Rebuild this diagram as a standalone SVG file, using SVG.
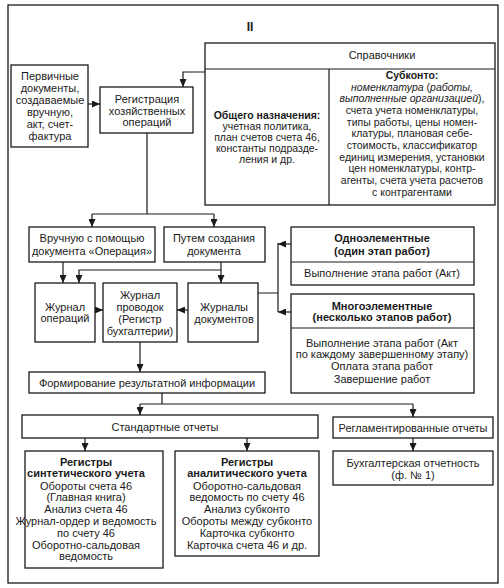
<svg xmlns="http://www.w3.org/2000/svg" width="504" height="588" viewBox="0 0 504 588">
<style>
text{font-family:"Liberation Sans",Arial,sans-serif;font-size:11px;fill:#1a1a1a;text-anchor:middle}
.s{font-size:10.5px}
.b{font-weight:bold}
.i{font-style:italic}
.box{fill:#fff;stroke:#1a1a1a;stroke-width:1.3}
.ln{fill:none;stroke:#1a1a1a;stroke-width:1.2}
.ar{fill:none;stroke:#1a1a1a;stroke-width:1.2;marker-end:url(#ah)}
</style>
<defs>
<marker id="ah" viewBox="0 0 8 7" refX="8" refY="3.5" markerWidth="8" markerHeight="7" markerUnits="userSpaceOnUse" orient="auto">
<path d="M0,0 L8,3.5 L0,7 z" fill="#1a1a1a"/>
</marker>
</defs>
<rect width="504" height="588" fill="#fff"/>
<rect x="8" y="5" width="490" height="578" fill="none" stroke="#1a1a1a" stroke-width="1.3"/>
<text x="250" y="31" class="b" style="font-size:12px">II</text>

<g id="connectors">
<path class="ar" d="M88,104 H100"/>
<path class="ar" d="M205,72 H183 V87"/>
<path class="ln" d="M147,133 V214 M92,214 H214"/>
<path class="ar" d="M92,214 V227"/>
<path class="ar" d="M214,214 V227"/>
<path class="ar" d="M63,262 V283"/>
<path class="ar" d="M221,262 V283"/>
<path class="ar" d="M221,270 H79 V283"/>
<path class="ar" d="M95,310 H103"/>
<path class="ar" d="M188,310 H177"/>
<path class="ln" d="M258,293 H278 M278,243 V312"/>
<path class="ar" d="M291,244 H278"/>
<path class="ar" d="M291,312 H278"/>
<path class="ar" d="M140,342 V372"/>
<path class="ln" d="M162,393 V404 M140,404 H413"/>
<path class="ar" d="M140,404 V415"/>
<path class="ar" d="M413,404 V417"/>
<path class="ar" d="M85,438 V451"/>
<path class="ar" d="M247,438 V451"/>
<path class="ar" d="M413,438 V451"/>
</g>

<g id="primary">
<rect class="box" x="11" y="65" width="77" height="82"/>
<text x="50" y="80">Первичные</text>
<text x="50" y="92">документы,</text>
<text x="50" y="104">создаваемые</text>
<text x="50" y="116">вручную,</text>
<text x="50" y="128">акт, счет-</text>
<text x="50" y="140">фактура</text>
</g>

<g id="registration">
<rect class="box" x="100" y="87" width="93" height="46"/>
<text x="147" y="103">Регистрация</text>
<text x="147" y="115">хозяйственных</text>
<text x="147" y="126">операций</text>
</g>

<g id="spravochniki">
<rect class="box" x="205" y="43" width="290" height="162"/>
<path class="ln" d="M205,69 H495 M329,69 V205"/>
<text x="382" y="59">Справочники</text>
<text class="s b" x="267" y="119">Общего назначения:</text>
<text class="s" x="267" y="130">учетная политика,</text>
<text class="s" x="267" y="141">план счетов счета 46,</text>
<text class="s" x="267" y="152">константы подразде-</text>
<text class="s" x="267" y="163">ления и др.</text>
<text class="s b" x="412" y="79">Субконто:</text>
<text class="s" x="412" y="91"><tspan class="i">номенклатура</tspan> (<tspan class="i">работы,</tspan></text>
<text class="s" x="412" y="102"><tspan class="i">выполненные организацией</tspan>),</text>
<text class="s" x="412" y="114">счета учета номенклатуры,</text>
<text class="s" x="412" y="126">типы работы, цены номен-</text>
<text class="s" x="412" y="137">клатуры, плановая себе-</text>
<text class="s" x="412" y="149">стоимость, классификатор</text>
<text class="s" x="412" y="161">единиц измерения, установки</text>
<text class="s" x="412" y="172">цен номенклатуры, контр-</text>
<text class="s" x="412" y="184">агенты, счета учета расчетов</text>
<text class="s" x="412" y="196">с контрагентами</text>
</g>

<g id="manual">
<rect class="box" x="29" y="227" width="126" height="35"/>
<text x="92" y="242">Вручную с помощью</text>
<text x="92" y="255">документа «Операция»</text>
</g>

<g id="bydoc">
<rect class="box" x="164" y="227" width="101" height="35"/>
<text x="214" y="242">Путем создания</text>
<text x="214" y="255">документа</text>
</g>

<g id="single">
<rect class="box" x="291" y="227" width="183" height="58"/>
<path class="ln" d="M291,262 H474"/>
<text class="b" x="382" y="242">Одноэлементные</text>
<text class="b" x="382" y="255">(один этап работ)</text>
<text x="382" y="277">Выполнение этапа работ (Акт)</text>
</g>

<g id="multi">
<rect class="box" x="291" y="294" width="183" height="99"/>
<path class="ln" d="M291,328 H474"/>
<text class="b" x="382" y="310">Многоэлементные</text>
<text class="b" x="382" y="321">(несколько этапов работ)</text>
<text x="382" y="347">Выполнение этапа работ (Акт</text>
<text x="382" y="358">по каждому завершенному этапу)</text>
<text x="382" y="370">Оплата этапа работ</text>
<text x="382" y="383">Завершение работ</text>
</g>

<g id="journal-ops">
<rect class="box" x="35" y="283" width="60" height="59"/>
<text x="65" y="311">Журнал</text>
<text x="65" y="322">операций</text>
</g>

<g id="journal-entries">
<rect class="box" x="103" y="283" width="74" height="59"/>
<text x="140" y="299">Журнал</text>
<text x="140" y="311">проводок</text>
<text x="140" y="323">(Регистр</text>
<text x="140" y="335">бухгалтерии)</text>
</g>

<g id="journal-docs">
<rect class="box" x="188" y="283" width="70" height="59"/>
<text x="224" y="311">Журналы</text>
<text x="224" y="323">документов</text>
</g>

<g id="forming">
<rect class="box" x="29" y="372" width="236" height="21"/>
<text x="147" y="387">Формирование результатной информации</text>
</g>

<g id="standard">
<rect class="box" x="22" y="415" width="296" height="23"/>
<text x="165" y="431">Стандартные отчеты</text>
</g>

<g id="regulated">
<rect class="box" x="333" y="417" width="160" height="21"/>
<text x="413" y="432">Регламентированные отчеты</text>
</g>

<g id="synthetic">
<rect class="box" x="25" y="451" width="138" height="117"/>
<text class="b" x="86" y="466">Регистры</text>
<text class="b" x="86" y="477">синтетического учета</text>
<text x="86" y="490">Обороты счета 46</text>
<text x="86" y="501">(Главная книга)</text>
<text x="86" y="513">Анализ счета 46</text>
<text x="86" y="525">Журнал-ордер и ведомость</text>
<text x="86" y="537">по счету 46</text>
<text x="86" y="549">Оборотно-сальдовая</text>
<text x="86" y="560">ведомость</text>
</g>

<g id="analytic">
<rect class="box" x="175" y="451" width="144" height="105"/>
<text class="b" x="247" y="466">Регистры</text>
<text class="b" x="247" y="477">аналитического учета</text>
<text x="247" y="490">Оборотно-сальдовая</text>
<text x="247" y="501">ведомость по счету 46</text>
<text x="247" y="513">Анализ субконто</text>
<text x="247" y="525">Обороты между субконто</text>
<text x="247" y="537">Карточка субконто</text>
<text x="247" y="549">Карточка счета 46 и др.</text>
</g>

<g id="accounting">
<rect class="box" x="333" y="451" width="160" height="34"/>
<text x="413" y="467">Бухгалтерская отчетность</text>
<text x="413" y="479">(ф. № 1)</text>
</g>
</svg>
